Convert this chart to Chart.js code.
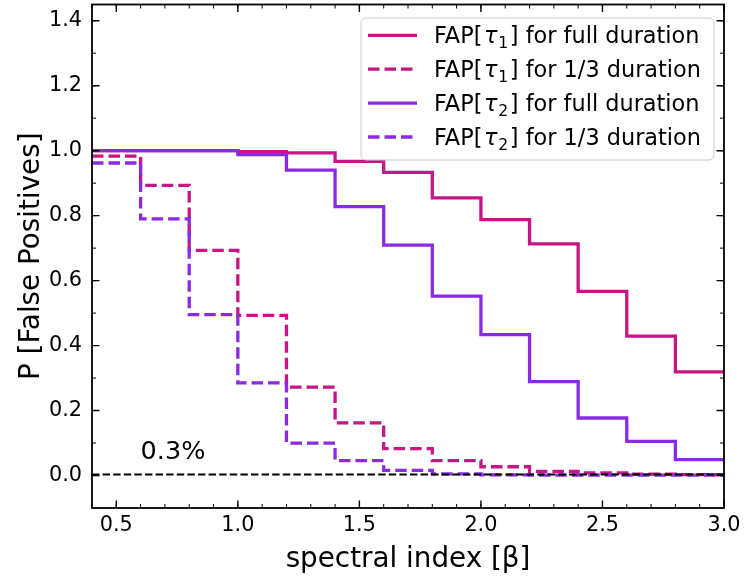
<!DOCTYPE html>
<html><head><meta charset="utf-8">
<script src="https://cdn.jsdelivr.net/npm/chart.js@4.4.1/dist/chart.umd.min.js"></script>
<style>html,body{margin:0;padding:0;background:#fff;} canvas{display:block;}</style>
</head><body>
<canvas id="c" width="744" height="578"></canvas>
<script>
// ---- data ----
const binEdges = [0.4, 0.6, 0.8, 1.0, 1.2, 1.4, 1.6, 1.8, 2.0, 2.2, 2.4, 2.6, 2.8, 3.0];
const fapTau1Full  = [1.000, 1.000, 1.000, 0.997, 0.993, 0.967, 0.933, 0.855, 0.788, 0.713, 0.567, 0.429, 0.319];
const fapTau1Third = [0.983, 0.893, 0.693, 0.493, 0.272, 0.162, 0.083, 0.046, 0.027, 0.013, 0.008, 0.004, 0.003];
const fapTau2Full  = [1.000, 1.000, 1.000, 0.988, 0.940, 0.828, 0.709, 0.552, 0.434, 0.289, 0.177, 0.105, 0.049];
const fapTau2Third = [0.962, 0.790, 0.495, 0.285, 0.100, 0.046, 0.016, 0.005, 0.002, 0.001, 0.001, 0.001, 0.001];
const thresholdX = [0.4, 3.0];
const thresholdY = [0.003, 0.003];
const seriesLabels = ['FAP[τ₁] for full duration', 'FAP[τ₁] for 1/3 duration', 'FAP[τ₂] for full duration', 'FAP[τ₂] for 1/3 duration'];
const xTickValues = [0.5, 1.0, 1.5, 2.0, 2.5, 3.0];
const yTickValues = [0.0, 0.2, 0.4, 0.6, 0.8, 1.0, 1.2, 1.4];
const xMinorStep = 0.1, yMinorStep = 0.1;
const annotationText = '0.3%';
const annotationPos = {x: 0.6, y: 0.05};
const xTitle = 'spectral index [β]';
const yTitle = 'P [False Positives]';

const MAGENTA = '#C71585', PURPLE = '#8A2BE2';
const FONT = 'DejaVu Sans';

function stepPoints(vals) {
  return binEdges.map((x, i) => ({x: x, y: vals[Math.min(i, vals.length - 1)]}));
}

Chart.defaults.font.family = FONT;
Chart.defaults.color = '#000';

const LW = 3.3;
const DASH = [11.5, 5];
const lineBase = {pointRadius: 0, pointHoverRadius: 0, fill: false, tension: 0, stepped: 'before', borderWidth: LW, borderCapStyle: 'butt', borderJoinStyle: 'miter'};

const datasets = [
  Object.assign({}, lineBase, {label: seriesLabels[0], data: stepPoints(fapTau1Full), borderColor: MAGENTA, order: 5}),
  Object.assign({}, lineBase, {label: seriesLabels[1], data: stepPoints(fapTau1Third), borderColor: MAGENTA, borderDash: DASH, order: 4}),
  Object.assign({}, lineBase, {label: seriesLabels[2], data: stepPoints(fapTau2Full), borderColor: PURPLE, order: 3}),
  Object.assign({}, lineBase, {label: seriesLabels[3], data: stepPoints(fapTau2Third), borderColor: PURPLE, borderDash: DASH, order: 2}),
  {label: 'threshold', data: thresholdX.map((x, i) => ({x: x, y: thresholdY[i]})), borderColor: '#000', borderWidth: 2, borderDash: [7.4, 3.2], pointRadius: 0, fill: false, order: 1, stepped: false}
];

function minorValues(min, max, step) {
  const out = [];
  const k0 = Math.ceil(min / step - 1e-9), k1 = Math.floor(max / step + 1e-9);
  for (let k = k0; k <= k1; k++) out.push(+(k * step).toFixed(6));
  return out;
}

const framePlugin = {
  id: 'frameTicks',
  afterDraw(chart) {
    const {ctx, chartArea: ca, scales} = chart;
    const x = scales.x, y = scales.y;
    ctx.save();
    ctx.strokeStyle = '#000';
    // minor ticks
    ctx.lineWidth = 1;
    minorValues(x.min, x.max, xMinorStep).forEach(v => {
      const p = x.getPixelForValue(v);
      ctx.beginPath();
      ctx.moveTo(p, ca.bottom); ctx.lineTo(p, ca.bottom - 4);
      ctx.moveTo(p, ca.top); ctx.lineTo(p, ca.top + 4);
      ctx.stroke();
    });
    minorValues(y.min, y.max, yMinorStep).forEach(v => {
      const p = y.getPixelForValue(v);
      ctx.beginPath();
      ctx.moveTo(ca.left, p); ctx.lineTo(ca.left + 4, p);
      ctx.moveTo(ca.right, p); ctx.lineTo(ca.right - 4, p);
      ctx.stroke();
    });
    // major ticks
    ctx.lineWidth = 1.4;
    x.ticks.forEach(t => {
      const p = x.getPixelForValue(t.value);
      ctx.beginPath();
      ctx.moveTo(p, ca.bottom); ctx.lineTo(p, ca.bottom - 7.5);
      ctx.moveTo(p, ca.top); ctx.lineTo(p, ca.top + 7.5);
      ctx.stroke();
    });
    y.ticks.forEach(t => {
      const p = y.getPixelForValue(t.value);
      ctx.beginPath();
      ctx.moveTo(ca.left, p); ctx.lineTo(ca.left + 7.5, p);
      ctx.moveTo(ca.right, p); ctx.lineTo(ca.right - 7.5, p);
      ctx.stroke();
    });
    // frame
    ctx.lineWidth = 1.8;
    ctx.strokeRect(ca.left, ca.top, ca.right - ca.left, ca.bottom - ca.top);

    // annotation text
    ctx.fillStyle = '#000';
    ctx.font = '25.5px "' + FONT + '"';
    ctx.textAlign = 'left';
    ctx.textBaseline = 'alphabetic';
    ctx.fillText(annotationText, x.getPixelForValue(annotationPos.x), y.getPixelForValue(annotationPos.y));

    // legend
    const fs = 22.4;
    const boxRight = ca.right - 10, boxTop = ca.top + 13.5;
    const boxW = 353, boxH = 142;
    const bx = boxRight - boxW, by = boxTop;
    ctx.beginPath();
    if (ctx.roundRect) ctx.roundRect(bx, by, boxW, boxH, 5); else ctx.rect(bx, by, boxW, boxH);
    ctx.fillStyle = 'rgba(255,255,255,0.8)';
    ctx.fill();
    ctx.lineWidth = 1;
    ctx.strokeStyle = '#cccccc';
    ctx.stroke();
    const ds = chart.data.datasets.slice(0, 4);
    ds.forEach((d, i) => {
      const cy = by + 17.3 + i * 33.9;
      ctx.save();
      ctx.strokeStyle = d.borderColor;
      ctx.lineWidth = LW;
      ctx.lineCap = 'butt';
      ctx.setLineDash(d.borderDash || []);
      ctx.beginPath();
      ctx.moveTo(bx + 7, cy); ctx.lineTo(bx + 56, cy);
      ctx.stroke();
      ctx.restore();
      // text with italic tau + subscript
      let tx = bx + 73;
      const base = cy + 8;
      ctx.fillStyle = '#000';
      ctx.textAlign = 'left';
      ctx.textBaseline = 'alphabetic';
      const parts = d.label.split(/(τ[₁₂])/);
      parts.forEach(part => {
        if (!part) return;
        const m = part.match(/^τ([₁₂])$/);
        if (m) {
          ctx.font = 'italic ' + fs + 'px "' + FONT + '"';
          ctx.fillText('τ', tx + 1.5, base);
          tx += ctx.measureText('τ').width + 2.5;
          const digit = m[1] === '₁' ? '1' : '2';
          ctx.font = (fs * 0.7).toFixed(1) + 'px "' + FONT + '"';
          ctx.fillText(digit, tx, base + 4.5);
          tx += ctx.measureText(digit).width + 1.5;
        } else {
          ctx.font = fs + 'px "' + FONT + '"';
          ctx.fillText(part, tx, base);
          tx += ctx.measureText(part).width;
        }
      });
    });
    ctx.restore();
  }
};

new Chart(document.getElementById('c'), {
  type: 'line',
  data: {datasets: datasets},
  options: {
    responsive: false,
    animation: false,
    devicePixelRatio: 1,
    layout: {padding: {left: 0, right: 20, top: 4.5, bottom: 0}},
    plugins: {legend: {display: false}, tooltip: {enabled: false}},
    scales: {
      x: {
        type: 'linear', min: 0.4, max: 3.0,
        grid: {display: false, drawTicks: false, tickLength: 0},
        border: {display: false},
        afterBuildTicks: s => { s.ticks = xTickValues.map(v => ({value: v})); },
        afterFit: s => { s.height = 70; s.paddingLeft = 0; s.paddingRight = 0; },
        ticks: {padding: 5, font: {size: 20.8}, color: '#000', maxRotation: 0, autoSkip: false, callback: v => Number(v).toFixed(1)},
        title: {display: true, text: xTitle, font: {size: 27.8}, color: '#000', padding: {top: 0, bottom: 2}}
      },
      y: {
        type: 'linear', min: -0.1, max: 1.45,
        grid: {display: false, drawTicks: false, tickLength: 0},
        border: {display: false},
        afterBuildTicks: s => { s.ticks = yTickValues.map(v => ({value: v})); },
        afterFit: s => { s.width = 92; s.paddingTop = 0; s.paddingBottom = 0; },
        ticks: {padding: 10, font: {size: 20.8}, color: '#000', autoSkip: false, callback: v => Number(v).toFixed(1)},
        title: {display: true, text: yTitle, font: {size: 27.8}, color: '#000', padding: {top: 15, bottom: 0}}
      }
    }
  },
  plugins: [framePlugin]
});
</script>
</body></html>
